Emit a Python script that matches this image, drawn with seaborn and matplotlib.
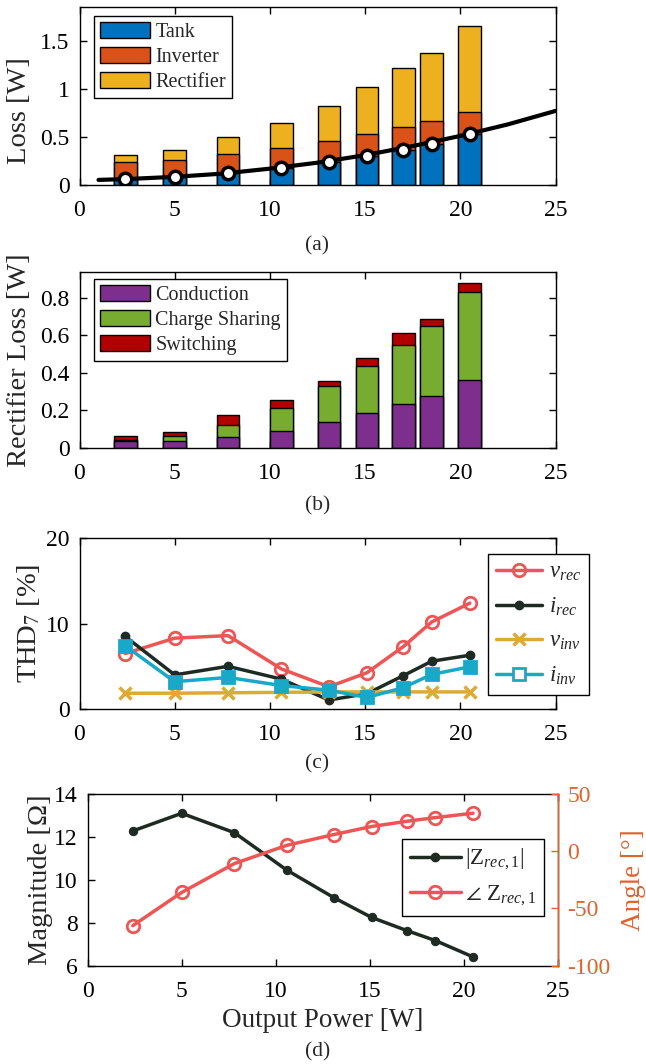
import numpy as np
import pandas as pd
import matplotlib
matplotlib.use("Agg")
import matplotlib.pyplot as plt
from matplotlib.lines import Line2D
from matplotlib.patches import Patch
import seaborn as sns

# ---------------- data ----------------
power = [2.4, 5.0, 7.8, 10.6, 13.1, 15.1, 17.0, 18.5, 20.5]

# (a) loss breakdown [W]
tank = [0.063, 0.087, 0.122, 0.175, 0.238, 0.304, 0.367, 0.427, 0.531]
inverter = [0.175, 0.175, 0.200, 0.213, 0.217, 0.227, 0.238, 0.237, 0.231]
rectifier = [0.070, 0.098, 0.178, 0.255, 0.363, 0.486, 0.612, 0.706, 0.888]
fit_power = [1, 2.5, 5, 7.5, 10, 12.5, 15, 17.5, 20, 22.5, 25]
fit_loss = [0.053, 0.062, 0.085, 0.118, 0.170, 0.232, 0.310, 0.405, 0.510, 0.630, 0.770]

# (b) rectifier loss breakdown [W]
conduction = [0.037, 0.037, 0.059, 0.088, 0.138, 0.186, 0.234, 0.275, 0.364]
charge_sharing = [0.004, 0.025, 0.064, 0.123, 0.191, 0.253, 0.312, 0.377, 0.466]
switching = [0.022, 0.020, 0.050, 0.043, 0.028, 0.041, 0.066, 0.036, 0.050]

# (c) THD_7 [%]
thd_v_rec = [6.5, 8.3, 8.6, 4.7, 2.6, 4.25, 7.3, 10.2, 12.4]
thd_i_rec = [8.5, 4.0, 5.0, 3.5, 1.05, 1.8, 3.9, 5.6, 6.3]
thd_v_inv = [1.85, 1.85, 1.9, 1.95, 2.0, 2.0, 2.0, 2.0, 2.0]
thd_i_inv = [7.4, 3.2, 3.7, 2.75, 2.2, 1.35, 2.5, 4.05, 4.95]

# (d) rectifier impedance
z_mag = [12.28, 13.1, 12.2, 10.45, 9.17, 8.25, 7.63, 7.17, 6.41]
z_ang = [-65, -36, -10.8, 5.2, 14.6, 21.6, 26.2, 29.4, 33.2]

x_ticks = [0, 5, 10, 15, 20, 25]

# ---------------- style ----------------
sns.set_theme(style="white")
plt.rcParams["font.family"] = ["Liberation Serif", "DejaVu Serif"]
plt.rcParams["mathtext.fontset"] = "custom"
plt.rcParams["mathtext.rm"] = "Liberation Serif"
plt.rcParams["mathtext.it"] = "Liberation Serif:italic"
plt.rcParams["mathtext.bf"] = "Liberation Serif:bold"
plt.rcParams["axes.unicode_minus"] = False

TICK_FS = 17
LABEL_FS = 19.5
YLABEL_FS = 20.5
LEG_FS = 14.5
CAP_FS = 15.5

C_TANK, C_INV, C_RECT = "#0072BD", "#D95319", "#EDB120"
C_COND, C_CHG, C_SW = "#7E2F8E", "#77AC30", "#B20000"
C_RED, C_BLK, C_GOLD, C_CYAN = "#EE5555", "#1E2B22", "#DDAA33", "#18A8C8"
C_ANG = "#E2622C"

W, H = 646, 1064
fig = plt.figure(figsize=(W / 100, H / 100), dpi=100)


def axes_px(left, top, right, bottom):
    return fig.add_axes([left / W, 1 - bottom / H, (right - left) / W, (bottom - top) / H])


def style_axes(ax, top=True, right=True):
    ax.tick_params(direction="in", length=5, width=1, labelsize=TICK_FS,
                   top=top, right=right, bottom=True, left=True, colors="black")
    ax.tick_params(axis="x", pad=11)
    ax.tick_params(axis="y", pad=7)
    for s in ax.spines.values():
        s.set_linewidth(1.0)
        s.set_color("black")
    ax.set_xlim(0, 25)
    ax.set_xticks(x_ticks)
    ax.set_xlabel("")


bar_w = 1.2 / np.min(np.diff(sorted(power)))


def stacked(ax, layers, colors):
    cum = np.cumsum(np.array(layers), axis=0)
    # draw from the top of the stack down so lower segments overlay
    for k in range(len(layers) - 1, -1, -1):
        sns.barplot(x=power, y=list(cum[k]), native_scale=True, width=bar_w,
                    color=colors[k], saturation=1, edgecolor="black", linewidth=1,
                    errorbar=None, ax=ax)


def ylab_x(center_px, ax_left_px, ax_w_px):
    # ylabel anchor is the right edge of the rotated text (about 12 px from centre)
    return (center_px + 12 - ax_left_px) / ax_w_px


# ---------------- (a) ----------------
ax_a = axes_px(79.5, 7, 555.5, 185)
stacked(ax_a, [tank, inverter, rectifier], [C_TANK, C_INV, C_RECT])
sns.lineplot(x=fit_power, y=fit_loss, color="black", linewidth=3, ax=ax_a, zorder=5)
sns.scatterplot(x=power, y=tank, s=80, color="white", edgecolor="black",
                linewidth=2.5, ax=ax_a, zorder=6)
style_axes(ax_a)
ax_a.set_ylim(0, 1.85)
ax_a.set_yticks([0, 0.5, 1, 1.5])
ax_a.set_yticklabels(["0", "0.5", "1", "1.5"])
ax_a.set_ylabel("Loss [W]", fontsize=YLABEL_FS)
ax_a.yaxis.set_label_coords(ylab_x(20, 79.5, 476), 0.42)
leg_a = ax_a.legend(handles=[Patch(facecolor=c, edgecolor="black", label=l)
                             for c, l in zip([C_TANK, C_INV, C_RECT], ["Tank", "Inverter", "Rectifier"])],
                    loc="upper left", bbox_to_anchor=(0.03, 0.95), borderaxespad=0,
                    fontsize=LEG_FS, handlelength=2.5, handleheight=0.85, labelspacing=0.25,
                    handletextpad=0.25, borderpad=0.3, fancybox=False, framealpha=1,
                    edgecolor="black")
leg_a.get_frame().set_linewidth(1)
fig.text(317.5 / W, 1 - 246 / H, "(a)", ha="center", va="center", fontsize=CAP_FS)

# ---------------- (b) ----------------
ax_b = axes_px(79.5, 271.7, 555.5, 447.7)
stacked(ax_b, [conduction, charge_sharing, switching], [C_COND, C_CHG, C_SW])
style_axes(ax_b)
ax_b.set_ylim(0, 0.94)
ax_b.set_yticks([0, 0.2, 0.4, 0.6, 0.8])
ax_b.set_yticklabels(["0", "0.2", "0.4", "0.6", "0.8"])
ax_b.set_ylabel("Rectifier Loss [W]", fontsize=YLABEL_FS)
ax_b.yaxis.set_label_coords(ylab_x(20, 79.5, 476), 0.5)
leg_b = ax_b.legend(handles=[Patch(facecolor=c, edgecolor="black", label=l)
                             for c, l in zip([C_COND, C_CHG, C_SW],
                                             ["Conduction", "Charge Sharing", "Switching"])],
                    loc="upper left", bbox_to_anchor=(0.03, 0.958), borderaxespad=0,
                    fontsize=LEG_FS, handlelength=2.5, handleheight=0.85, labelspacing=0.25,
                    handletextpad=0.25, borderpad=0.3, fancybox=False, framealpha=1,
                    edgecolor="black")
leg_b.get_frame().set_linewidth(1)
fig.text(317.5 / W, 1 - 506 / H, "(b)", ha="center", va="center", fontsize=CAP_FS)

# ---------------- (c) ----------------
ax_c = axes_px(79.5, 538.3, 555.5, 709)
series_c = [
    (thd_v_rec, C_RED, dict(marker="o", markersize=9, markerfacecolor="none",
                            markeredgecolor=C_RED, markeredgewidth=2), r"$v_{rec}$"),
    (thd_i_rec, C_BLK, dict(marker="o", markersize=6, markerfacecolor=C_BLK,
                            markeredgecolor=C_BLK, markeredgewidth=1), r"$i_{rec}$"),
    (thd_v_inv, C_GOLD, dict(marker="x", markersize=8, markeredgecolor=C_GOLD,
                             markeredgewidth=2.5), r"$v_{inv}$"),
    (thd_i_inv, C_CYAN, dict(marker="s", markersize=8, markerfacecolor=C_CYAN,
                             markeredgecolor=C_CYAN, markeredgewidth=2), r"$i_{inv}$"),
]
handles_c = []
for vals, col, mk, lab in series_c:
    sns.lineplot(x=power, y=vals, color=col, linewidth=2.5, ax=ax_c, **mk)
    hk = dict(mk)
    if hk.get("marker") == "s":
        hk["markerfacecolor"] = "white"
    handles_c.append(Line2D([], [], color=col, linewidth=2.5, label=lab, **hk))
style_axes(ax_c)
ax_c.set_ylim(0, 20)
ax_c.set_yticks([0, 10, 20])
ax_c.set_ylabel(r"THD$_7$ [%]", fontsize=YLABEL_FS)
ax_c.yaxis.set_label_coords(ylab_x(30, 79.5, 476), 0.5)
leg_c = ax_c.legend(handles=handles_c, loc="upper left", bbox_to_anchor=(0.858, 0.908),
                    borderaxespad=0, fontsize=LEG_FS + 2, handlelength=2.0, labelspacing=0.55,
                    handletextpad=0.3, borderpad=0.35, fancybox=False, framealpha=1,
                    edgecolor="black")
leg_c.get_frame().set_linewidth(1)
fig.text(317.5 / W, 1 - 764 / H, "(c)", ha="center", va="center", fontsize=CAP_FS)

# ---------------- (d) ----------------
ax_d = axes_px(87.7, 794, 557.6, 965.7)
sns.lineplot(x=power, y=z_mag, color=C_BLK, linewidth=2.5, marker="o", markersize=6,
             markerfacecolor=C_BLK, markeredgecolor=C_BLK, ax=ax_d)
style_axes(ax_d, right=False)
ax_d.set_ylim(6, 14)
ax_d.set_yticks([6, 8, 10, 12, 14])
ax_d.set_ylabel("Magnitude [Ω]", fontsize=YLABEL_FS)
ax_d.yaxis.set_label_coords(ylab_x(41, 87.7, 470), 0.5)
ax_d.set_xlabel("Output Power [W]", fontsize=LABEL_FS, labelpad=4)

ax_d2 = ax_d.twinx()
sns.lineplot(x=power, y=z_ang, color=C_RED, linewidth=2.5, marker="o", markersize=9,
             markerfacecolor="none", markeredgecolor=C_RED, markeredgewidth=2, ax=ax_d2)
ax_d2.set_ylim(-100, 50)
ax_d2.set_yticks([-100, -50, 0, 50])
ax_d2.tick_params(axis="y", direction="in", length=5, width=1, labelsize=TICK_FS,
                  colors=C_ANG, right=True, left=False, pad=7)
for s in ax_d2.spines.values():
    s.set_visible(False)
ax_d2.spines["right"].set_visible(True)
ax_d2.spines["right"].set_color(C_ANG)
ax_d2.spines["right"].set_linewidth(1.0)
ax_d2.set_ylabel("Angle [°]", fontsize=YLABEL_FS - 1, color=C_ANG)
ax_d2.yaxis.set_label_coords((621 - 87.7) / 470, 0.5)
handles_d = [
    Line2D([], [], color=C_BLK, linewidth=2.5, marker="o", markersize=6,
           markerfacecolor=C_BLK, markeredgecolor=C_BLK, label=r"$|\mathrm{Z}_{rec,\mathrm{1}}|$"),
    Line2D([], [], color=C_RED, linewidth=2.5, marker="o", markersize=9, markerfacecolor="none",
           markeredgecolor=C_RED, markeredgewidth=2, label=r"$\angle\ \mathrm{Z}_{rec,\mathrm{1}}$"),
]
leg_d = ax_d2.legend(handles=handles_d, loc="upper left", bbox_to_anchor=(0.669, 0.738),
                     borderaxespad=0, fontsize=LEG_FS + 2, handlelength=2.2, labelspacing=0.5,
                     handletextpad=0.2, borderpad=0.35, fancybox=False, framealpha=1,
                     edgecolor="black")
leg_d.get_frame().set_linewidth(1)
fig.text(317.5 / W, 1 - 1052 / H, "(d)", ha="center", va="center", fontsize=CAP_FS)

fig.savefig("out.png", dpi=100)
